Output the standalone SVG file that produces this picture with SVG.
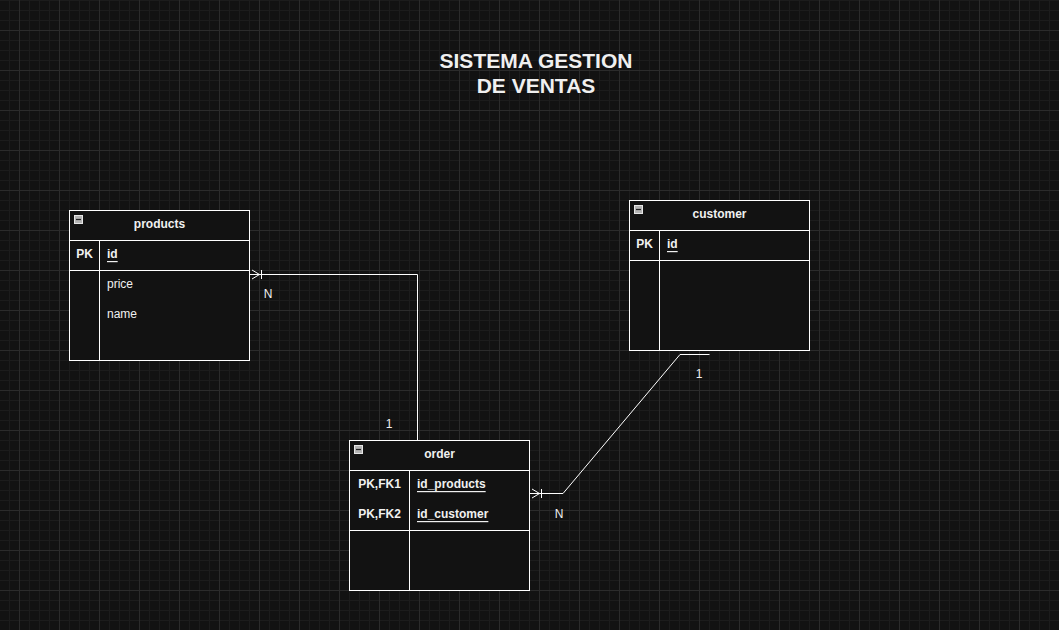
<svg xmlns="http://www.w3.org/2000/svg" width="1059" height="630" viewBox="0 0 1059 630">
<defs>
<pattern id="grid" x="19" y="30" width="40" height="40" patternUnits="userSpaceOnUse">
<path d="M10.5 0V40M20.5 0V40M30.5 0V40M0 10.5H40M0 20.5H40M0 30.5H40" stroke="#1c1c1c" stroke-width="1" fill="none"/>
<path d="M0.5 0V40M0 0.5H40" stroke="#2b2b2b" stroke-width="1" fill="none"/>
</pattern>
<marker id="many" markerUnits="userSpaceOnUse" markerWidth="20" markerHeight="20" refX="0" refY="0" orient="auto" overflow="visible">
<path d="M-2.5 -4.5L-10 0L-2.5 4.5M-12 -4.5V4.5" fill="none" stroke="#ffffff" stroke-width="1"/>
</marker>
<g id="minus">
<rect x="0.5" y="0.5" width="8" height="8" fill="#b4b4b4" stroke="#e6e6e6" stroke-width="1"/>
<path d="M2 4.5H7" stroke="#222222" stroke-width="1.2"/>
</g>
</defs>
<style>
.box{fill:#121212;stroke:#ffffff;stroke-width:1}
.ln{fill:none;stroke:#ffffff;stroke-width:1}
text{font-family:"Liberation Sans",Arial,Helvetica,sans-serif;fill:#f0f0f0}
.t{font-size:12px;font-weight:bold;text-anchor:middle;dominant-baseline:central}
.k{font-size:12px;font-weight:bold;text-anchor:middle;dominant-baseline:central}
.f{font-size:12px;dominant-baseline:central}
.u{font-size:12px;font-weight:bold;text-decoration:underline;dominant-baseline:central}
.lbl{font-size:12px;text-anchor:middle;dominant-baseline:central}
.title{font-size:21px;font-weight:bold;text-anchor:middle}
</style>
<rect width="1059" height="630" fill="#121212"/>
<rect width="1059" height="630" fill="url(#grid)"/>

<g id="title">
<text class="title" x="536" y="68">SISTEMA GESTION</text>
<text class="title" x="536" y="93">DE VENTAS</text>
</g>

<g id="connectors">
<path class="ln" d="M417.5 440.5V274.5H249.5" marker-end="url(#many)"/>
<path class="ln" d="M709.5 354.5H680L563 493.5H529.5" marker-end="url(#many)"/>
<text class="lbl" x="268" y="294">N</text>
<text class="lbl" x="389" y="424">1</text>
<text class="lbl" x="699" y="374">1</text>
<text class="lbl" x="559" y="514">N</text>
</g>

<g id="products">
<rect class="box" x="69.5" y="210.5" width="180" height="150"/>
<path class="ln" d="M69.5 240.5H249.5M69.5 270.5H249.5M99.5 240.5V360.5"/>
<use href="#minus" x="74" y="215"/>
<text class="t" x="159.5" y="224">products</text>
<text class="k" x="84.5" y="254">PK</text>
<text class="u" x="107" y="254">id</text>
<text class="f" x="107" y="284">price</text>
<text class="f" x="107" y="314">name</text>
</g>

<g id="customer">
<rect class="box" x="629.5" y="200.5" width="180" height="150"/>
<path class="ln" d="M629.5 230.5H809.5M629.5 260.5H809.5M659.5 230.5V350.5"/>
<use href="#minus" x="634" y="205"/>
<text class="t" x="719.5" y="214">customer</text>
<text class="k" x="644.5" y="244">PK</text>
<text class="u" x="667" y="244">id</text>
</g>

<g id="order">
<rect class="box" x="349.5" y="440.5" width="180" height="150"/>
<path class="ln" d="M349.5 470.5H529.5M349.5 530.5H529.5M409.5 470.5V590.5"/>
<use href="#minus" x="354" y="445"/>
<text class="t" x="439.5" y="454">order</text>
<text class="k" x="379.5" y="484">PK,FK1</text>
<text class="k" x="379.5" y="514">PK,FK2</text>
<text class="u" x="417" y="484">id_products</text>
<text class="u" x="417" y="514">id_customer</text>
</g>
</svg>
